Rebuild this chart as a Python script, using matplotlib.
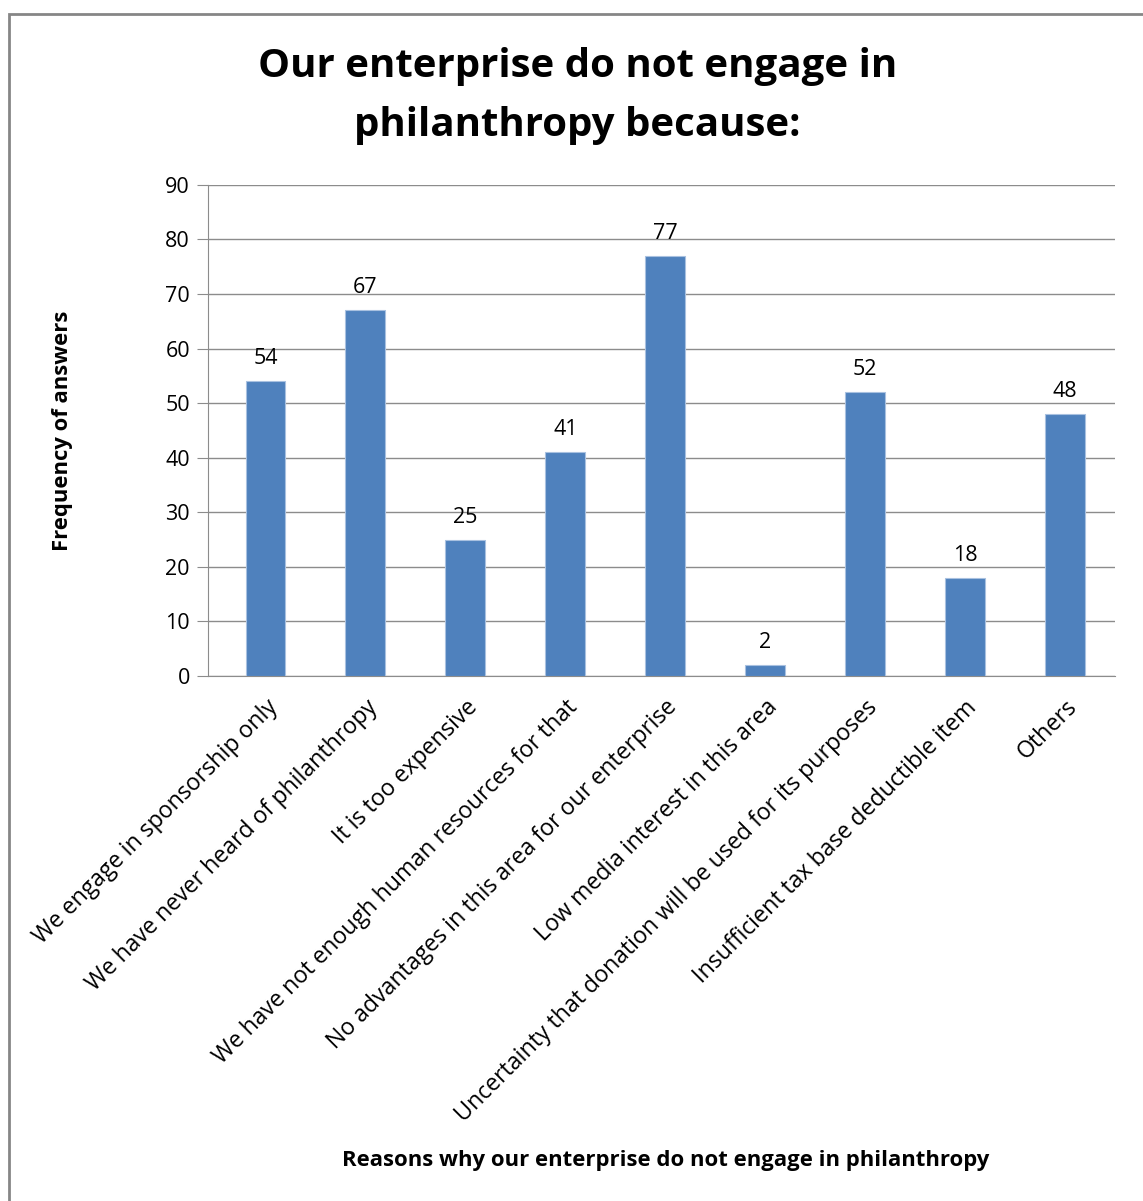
import matplotlib.pyplot as plt
import numpy as np
from matplotlib.patches import Rectangle

reasons = [
    "We engage in sponsorship only",
    "We have never heard of philanthropy",
    "It is too expensive",
    "We have not enough human resources for that",
    "No advantages in this area for our enterprise",
    "Low media interest in this area",
    "Uncertainty that donation will be used for its purposes",
    "Insufficient tax base deductible item",
    "Others",
]
answers = [54, 67, 25, 41, 77, 2, 52, 18, 48]
yticks = [0, 10, 20, 30, 40, 50, 60, 70, 80, 90]

plt.rcParams['font.family'] = ['Open Sans', 'DejaVu Sans']

fig = plt.figure(figsize=(11.43, 12.01), dpi=100)
ax = fig.add_axes([0.182, 0.4371, 0.7935, 0.409])

# grey frame around the chart area
fig.patches.append(Rectangle((0.008, -0.1), 1.1, 1.088, transform=fig.transFigure,
                             fill=False, edgecolor='#868686', linewidth=2))

x = np.arange(len(reasons))
ax.bar(x, answers, width=0.4, color='#4F81BD', edgecolor='#a9c1e0',
       linewidth=0.8, zorder=3)
for xi, v in zip(x, answers):
    ax.text(xi, v + 2.2, str(v), ha='center', va='bottom', fontsize=15.5)

ax.set_xlim(-0.575, len(reasons) - 0.5)
ax.set_ylim(0, 90)
ax.set_yticks(yticks)
ax.yaxis.grid(True, color='#8c8c8c', linewidth=1, zorder=0)
ax.tick_params(axis='y', length=8, color='#8c8c8c', labelsize=15.5, pad=5)
ax.tick_params(axis='x', length=0, pad=14)
ax.set_xticks(x)
ax.set_xticklabels(reasons, rotation=45, ha='right', va='top',
                   rotation_mode='anchor', fontsize=16.7)

for side in ['top', 'right']:
    ax.spines[side].set_visible(False)
ax.spines['left'].set_color('#8c8c8c')
ax.spines['bottom'].set_color('#8c8c8c')

ax.set_ylabel("Frequency of answers", fontsize=15.8, fontweight='bold')
ax.yaxis.set_label_coords(-0.149, 0.5)
fig.text(0.582, 0.034, "Reasons why our enterprise do not engage in philanthropy",
         ha='center', va='center', fontsize=15.9, fontweight='bold')
fig.text(0.505, 0.92, "Our enterprise do not engage in\nphilanthropy because:",
         ha='center', va='center', fontsize=29, fontweight='bold', linespacing=1.68)

plt.savefig("out.png", dpi=100)
